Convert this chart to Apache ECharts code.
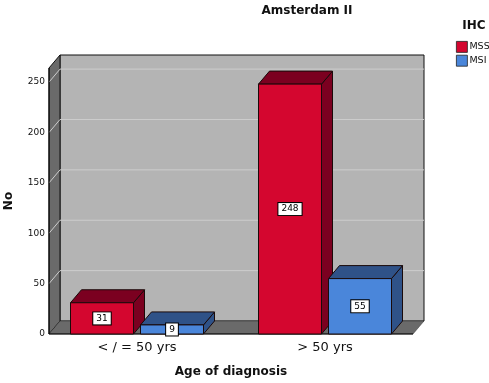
<!DOCTYPE html>
<html>
<head>
<meta charset="utf-8">
<script src="https://cdn.jsdelivr.net/npm/echarts@6/dist/echarts.min.js"></script>
<style>
  html, body { margin: 0; padding: 0; background: #fff; }
  #chart { width: 489px; height: 383px; }
</style>
</head>
<body>
<div id="chart"></div>
<script>
// data
var categories = ['< / = 50 yrs', '> 50 yrs'];
var seriesNames = ['MSS', 'MSI'];
var mssValues = [31, 248];
var msiValues = [9, 55];
var yTicks = [0, 50, 100, 150, 200, 250];

// 3D look
var DX = 11, DY = -13;       // depth offset
var INSET = 6;               // frame inset inside the grid
var BAR_W = 63, BAR_GAP = 7;
var faceColors = ['#d4062f', '#4a86da'];
var darkColors = ['#7b0020', '#2f5288'];

var myChart = echarts.init(document.getElementById('chart'));

// walls, floor and gridlines
function renderFrame(params, api) {
	var cs = params.coordSys;
	var x0 = cs.x + INSET, x1 = cs.x + cs.width - INSET;
	var yT = cs.y, yB = cs.y + cs.height;
	var kids = [];
	kids.push({ type: 'rect', shape: { x: x0 + DX, y: yT + DY, width: x1 - x0, height: yB - yT },
		style: { fill: '#b4b4b4', stroke: '#111', lineWidth: 1 } });
	kids.push({ type: 'polygon', shape: { points: [[x0, yB], [x0, yT], [x0 + DX, yT + DY], [x0 + DX, yB + DY]] },
		style: { fill: '#6a6a6a', stroke: '#111', lineWidth: 1 } });
	kids.push({ type: 'polygon', shape: { points: [[x0, yB], [x0 + DX, yB + DY], [x1 + DX, yB + DY], [x1, yB]] },
		style: { fill: '#6a6a6a', stroke: '#333', lineWidth: 0.5 } });
	yTicks.forEach(function (v) {
		if (v === 0) return;
		var y = api.coord([0, v])[1];
		kids.push({ type: 'polyline', shape: { points: [[x0, y], [x0 + DX, y + DY], [x1 + DX, y + DY]] },
			style: { fill: null, stroke: '#cdcdcd', lineWidth: 1 } });
	});
	kids.push({ type: 'line', shape: { x1: x0, y1: yB, x2: x1, y2: yB }, style: { stroke: '#000', lineWidth: 1 } });
	kids.push({ type: 'line', shape: { x1: x0, y1: yB, x2: x0, y2: yT }, style: { stroke: '#000', lineWidth: 1 } });
	return { type: 'group', children: kids };
}

function makeBarRenderer(s) {
	return function (params, api) {
		var cat = api.value(0), val = api.value(1);
		var base = api.coord([cat, 0]);
		var top = api.coord([cat, val])[1];
		var bx0 = base[0] - (2 * BAR_W + BAR_GAP) / 2 + s * (BAR_W + BAR_GAP);
		var bx1 = bx0 + BAR_W;
		var bot = base[1];
		var edge = { stroke: '#1a0a0a', lineWidth: 1 };
		return {
			type: 'group',
			children: [
				{ type: 'polygon', shape: { points: [[bx1, top], [bx1 + DX, top + DY], [bx1 + DX, bot + DY], [bx1, bot]] },
					style: Object.assign({ fill: darkColors[s] }, edge) },
				{ type: 'polygon', shape: { points: [[bx0, top], [bx0 + DX, top + DY], [bx1 + DX, top + DY], [bx1, top]] },
					style: Object.assign({ fill: darkColors[s] }, edge) },
				{ type: 'rect', shape: { x: bx0, y: top, width: BAR_W, height: bot - top },
					style: Object.assign({ fill: faceColors[s] }, edge) },
				{ type: 'text', x: (bx0 + bx1) / 2, y: (top + bot) / 2,
					style: { text: String(val), align: 'center', verticalAlign: 'middle',
						font: '9px "DejaVu Sans"', fill: '#000', backgroundColor: '#fff',
						borderColor: '#000', borderWidth: 1, padding: [2, 3, 1, 3] } }
			]
		};
	};
}

myChart.setOption({
	animation: false,
	title: [
		{ text: 'Amsterdam II', left: 302, top: 0, textAlign: 'center',
			textStyle: { fontFamily: 'DejaVu Sans', fontSize: 12, fontWeight: 'bold', color: '#111' } },
		{ text: 'IHC', left: 469, top: 15, textAlign: 'center',
			textStyle: { fontFamily: 'DejaVu Sans', fontSize: 12, fontWeight: 'bold', color: '#111' } }
	],
	legend: {
		data: seriesNames,
		orient: 'vertical',
		left: 451, top: 36,
		itemWidth: 11, itemHeight: 11, itemGap: 2,
		icon: 'rect',
		textStyle: { fontFamily: 'DejaVu Sans', fontSize: 9.5, color: '#111', padding: [0, 0, 0, -3] },
		itemStyle: { borderColor: '#222', borderWidth: 0.8 }
	},
	grid: { left: 43, right: 70, top: 68, bottom: 49, outerBoundsMode: 'none', containLabel: false },
	xAxis: {
		type: 'category',
		data: categories,
		axisLine: { show: false },
		axisTick: { show: false },
		axisLabel: { fontFamily: 'DejaVu Sans', fontSize: 13, color: '#111', margin: 7 },
		name: 'Age of diagnosis',
		nameLocation: 'middle',
		nameGap: 32,
		nameTextStyle: { fontFamily: 'DejaVu Sans', fontSize: 12, fontWeight: 'bold', color: '#111' }
	},
	yAxis: {
		type: 'value',
		min: 0, max: 264, interval: 50,
		offset: -INSET,
		axisLine: { show: false },
		axisTick: { show: false },
		splitLine: { show: false },
		axisLabel: { fontFamily: 'DejaVu Sans', fontSize: 9, color: '#111', margin: 4,
			showMaxLabel: false },
		name: 'No',
		nameLocation: 'middle',
		nameGap: 34,
		nameTextStyle: { fontFamily: 'DejaVu Sans', fontSize: 12, fontWeight: 'bold', color: '#111' }
	},
	series: [
		{ type: 'custom', name: 'frame', silent: true, clip: false, z: 1,
			renderItem: renderFrame, data: [[0, 0]] },
		{ type: 'custom', name: 'MSS', clip: false, z: 2,
			itemStyle: { color: faceColors[0] },
			renderItem: makeBarRenderer(0),
			data: mssValues.map(function (v, i) { return [i, v]; }) },
		{ type: 'custom', name: 'MSI', clip: false, z: 3,
			itemStyle: { color: faceColors[1] },
			renderItem: makeBarRenderer(1),
			data: msiValues.map(function (v, i) { return [i, v]; }) }
	]
});
window.onresize = function () {
	myChart.resize();
};
</script>
</body>
</html>
